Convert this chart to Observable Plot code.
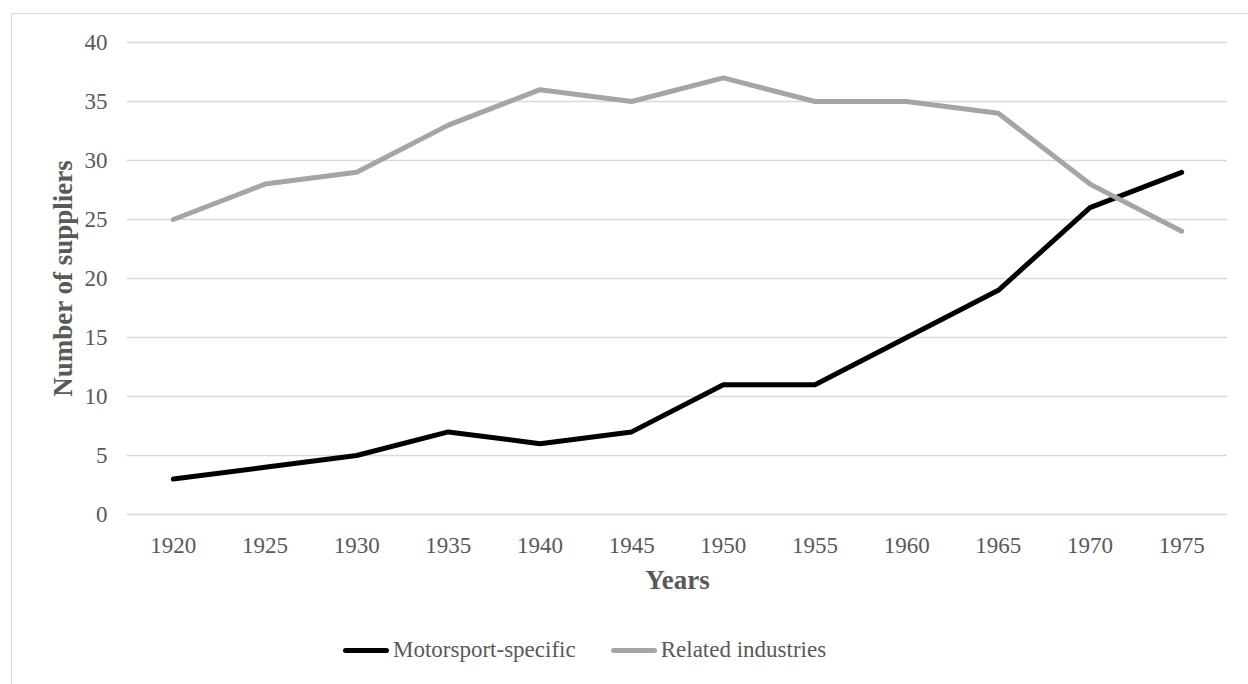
<!DOCTYPE html>
<html>
<head>
<meta charset="utf-8">
<script src="https://cdn.jsdelivr.net/npm/d3@7"></script>
<script src="https://cdn.jsdelivr.net/npm/@observablehq/plot@0.6"></script>
<style>
  html, body { margin: 0; padding: 0; background: #fff; overflow: hidden; }
  body { width: 1248px; height: 684px; position: relative; font-family: "Liberation Serif", "Times New Roman", serif; }
  #frame { position: absolute; left: 11px; top: 13px; width: 1300px; height: 700px; border: 1px solid #D9D9D9; box-sizing: border-box; }
  #chart { position: absolute; left: 0; top: 0; }
  #legend { position: absolute; left: 343px; top: 636px; height: 28px; display: flex; align-items: center; color: #595959; font-size: 23px; white-space: nowrap; }
  .item { display: flex; align-items: center; }
  .sw { display: inline-block; width: 46px; height: 5px; border-radius: 3px; margin-right: 4px; }
</style>
</head>
<body>
<div id="frame"></div>
<div id="chart"></div>
<div id="legend"></div>
<script>
const years = [1920, 1925, 1930, 1935, 1940, 1945, 1950, 1955, 1960, 1965, 1970, 1975];
const motorsportSpecific = [3, 4, 5, 7, 6, 7, 11, 11, 15, 19, 26, 29];
const relatedIndustries = [25, 28, 29, 33, 36, 35, 37, 35, 35, 34, 28, 24];
const yTicks = [0, 5, 10, 15, 20, 25, 30, 35, 40];
const seriesNames = ["Motorsport-specific", "Related industries"];
const seriesColors = ["#000000", "#A5A5A5"];

const rows = [];
years.forEach((y, i) => {
  rows.push({year: y, value: motorsportSpecific[i], series: seriesNames[0]});
  rows.push({year: y, value: relatedIndustries[i], series: seriesNames[1]});
});

const textColor = "#595959";
const font = "Liberation Serif, Times New Roman, serif";

const chart = Plot.plot({
  width: 1248,
  height: 610,
  marginLeft: 127,
  marginRight: 21,
  marginTop: 42,
  marginBottom: 96,
  style: {fontFamily: font, fontSize: "23px", color: textColor, background: "transparent"},
  x: {type: "linear", domain: [1917.5, 1977.5]},
  y: {domain: [0, 40]},
  color: {domain: seriesNames, range: seriesColors},
  marks: [
    Plot.gridY(yTicks, {stroke: "#D9D9D9", strokeOpacity: 1, strokeWidth: 1.4}),
    Plot.axisY({ticks: yTicks, tickSize: 0, tickPadding: 20, label: null, fill: textColor, fontSize: 23}),
    Plot.axisX({ticks: years, tickSize: 0, tickPadding: 22, tickFormat: d => String(d), label: null, fill: textColor, fontSize: 23}),
    Plot.line(rows, {x: "year", y: "value", z: "series", stroke: "series", strokeWidth: 5, strokeLinecap: "round", strokeLinejoin: "round"}),
    Plot.text(["Years"], {frameAnchor: "bottom", dy: 66, text: d => d, fontWeight: "bold", fill: textColor, fontSize: 27, textAnchor: "middle", lineAnchor: "middle"}),
    Plot.text(["Number of suppliers"], {frameAnchor: "left", dx: -64, rotate: -90, text: d => d, fontWeight: "bold", fill: textColor, fontSize: 27, textAnchor: "middle", lineAnchor: "middle"})
  ]
});
document.getElementById("chart").appendChild(chart);

const legend = document.getElementById("legend");
seriesNames.forEach((name, i) => {
  const item = document.createElement("div");
  item.className = "item";
  if (i > 0) item.style.marginLeft = "35px";
  const sw = document.createElement("span");
  sw.className = "sw";
  sw.style.background = seriesColors[i];
  const label = document.createElement("span");
  label.textContent = name;
  item.appendChild(sw);
  item.appendChild(label);
  legend.appendChild(item);
});
</script>
</body>
</html>
